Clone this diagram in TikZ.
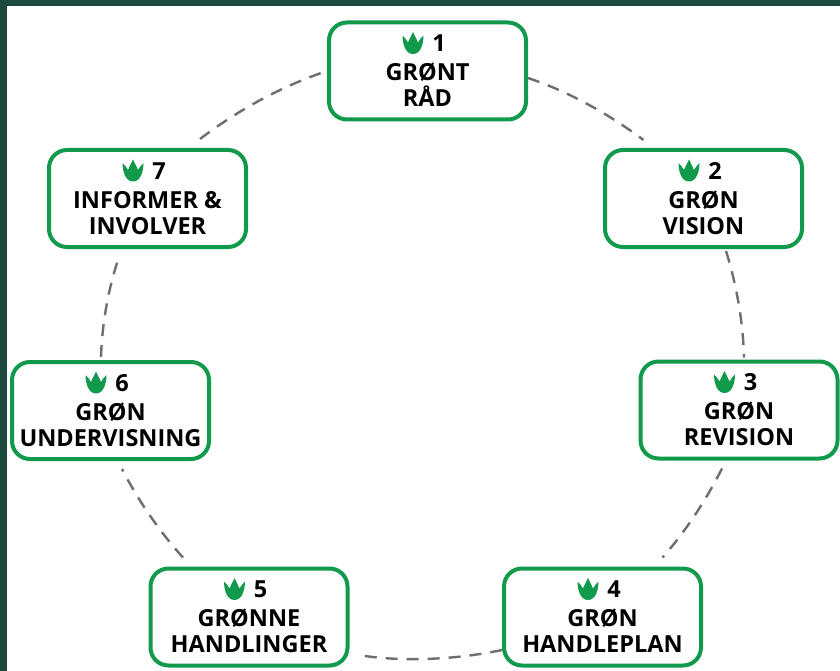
\documentclass[tikz,border=0pt]{standalone}
\usepackage{fontspec}
\setmainfont{Open Sans}[BoldFont={Open Sans Bold}]
\usetikzlibrary{backgrounds}
\definecolor{frame}{HTML}{1C4A40}
\definecolor{leaf}{HTML}{119A4B}
\definecolor{dash}{HTML}{6E6E6E}
\tikzset{
  stepbox/.style={draw=leaf,line width=4pt,rounded corners=18pt,fill=white,
    minimum width=197pt,minimum height=97pt,inner sep=0pt,align=center,
    font=\fontsize{23.5}{26}\selectfont\bfseries,text=black},
  conn/.style={draw=dash,line width=2.4pt,dash pattern=on 12pt off 9pt},
  paw/.pic={\fill[leaf] (-10.5,-7.5) .. controls (-8.5,-5.5) and (-6.5,-3.5) .. (-5,-0.5)
      .. controls (-3.5,-4) and (-1.5,-8) .. (0,-11)
      .. controls (1.5,-8) and (3.5,-4) .. (5,-0.5)
      .. controls (6.5,-3.5) and (8.5,-5.5) .. (10.5,-7.5)
      .. controls (10.5,0) and (8,11) .. (0,11)
      .. controls (-8,11) and (-10.5,0) .. (-10.5,-7.5) -- cycle;}
}
\newcommand{\numline}[1]{\hspace*{23pt}#1\\[3pt]}
\begin{document}
\begin{tikzpicture}[x=1pt,y=-1pt]
\useasboundingbox (0,0) rectangle (840,671);
\begin{scope}[on background layer]
\fill[white] (0,0) rectangle (840,671);
\fill[frame] (0,0) rectangle (840,6);
\fill[frame] (0,0) rectangle (6.5,671);
\end{scope}

\node[stepbox] (n1) at (427.5,71)  {\numline{1}GRØNT\\RÅD};
\node[stepbox] (n2) at (703.5,198.5) {\numline{2}GRØN\\VISION};
\node[stepbox] (n3) at (739,410)   {\numline{3}GRØN\\REVISION};
\node[stepbox] (n4) at (602.5,617) {\numline{4}GRØN\\HANDLEPLAN};
\node[stepbox] (n5) at (249,617)   {\numline{5}GRØNNE\\HANDLINGER};
\node[stepbox] (n6) at (110.5,410.5) {\numline{6}GRØN\\UNDERVISNING};
\node[stepbox] (n7) at (147.5,198.5) {\numline{7}INFORMER \&\\INVOLVER};

\foreach \nd in {n1,n2,n3,n4,n5,n6,n7}
  \pic at ([xshift=-14.5pt,yshift=28pt]\nd.center) {paw};

\begin{scope}[on background layer]
\draw[conn] ([yshift=-7pt]n1.east) .. controls (570,92) and (610,115) .. ([xshift=-60pt,yshift=8pt]n2.north);
\draw[conn] ([xshift=22.5pt,yshift=-2pt]n2.south) .. controls (736,283) and (743,320) .. ([xshift=5pt,yshift=2pt]n3.north);
\draw[conn] ([xshift=-17pt,yshift=-8pt]n3.south) .. controls (706,500) and (686,531) .. ([xshift=60pt,yshift=9pt]n4.north);
\draw[conn] ([yshift=-33pt]n4.west) .. controls (455,660) and (400,662) .. ([xshift=9pt,yshift=-38pt]n5.east);
\draw[conn] ([xshift=-66pt,yshift=9pt]n5.north) .. controls (159,531) and (138,500) .. ([xshift=11.5pt,yshift=-8pt]n6.south);
\draw[conn] ([xshift=-9.5pt,yshift=3pt]n6.north) .. controls (102,325) and (108,290) .. ([xshift=-29.5pt,yshift=-11pt]n7.south);
\draw[conn] ([xshift=52.5pt,yshift=9pt]n7.north) .. controls (238,110) and (282,86) .. (n1.west);
\end{scope}
\end{tikzpicture}
\end{document}
